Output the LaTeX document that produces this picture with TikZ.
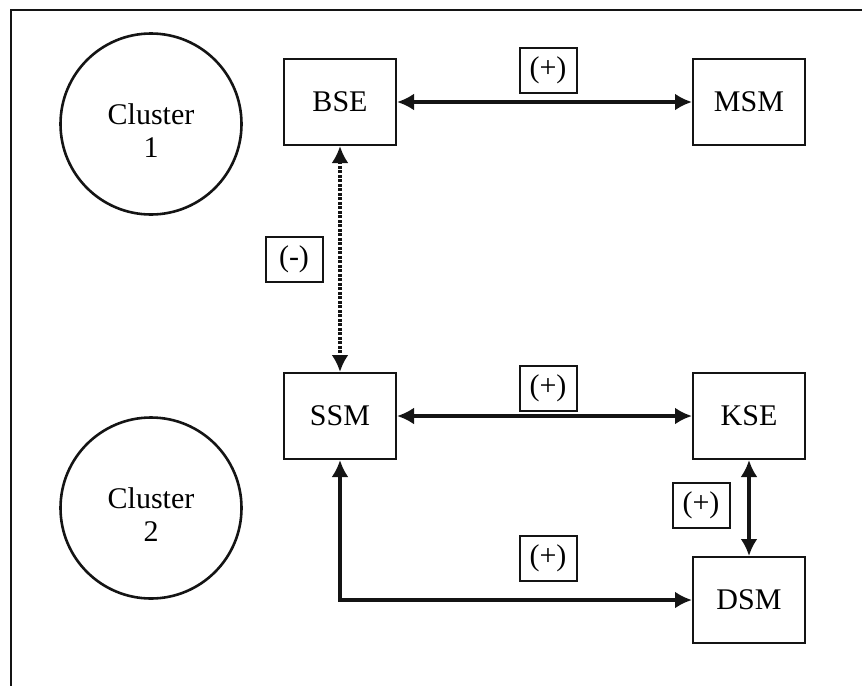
\documentclass[tikz,border=0pt]{standalone}
\usepackage{fontspec}
\setmainfont{Liberation Serif}
\usepackage{tikz}
\usetikzlibrary{arrows.meta,positioning,calc}
\definecolor{cmink}{RGB}{20,20,20}
\newcommand{\clutext}[1]{\raisebox{-17pt}[0pt][0pt]{\begin{tabular}{@{}c@{}}Cluster\\#1\end{tabular}}}
\tikzset{
  blk/.style={
    draw=cmink, line width=2pt, minimum width=112pt, minimum height=86pt,
    inner sep=0pt, align=center
  },
  clu/.style={
    circle, draw=cmink, line width=2.6pt, minimum size=181pt,
    inner sep=0pt, align=center
  },
  sgn/.style={
    draw=cmink, line width=2pt, minimum width=57pt, minimum height=45pt,
    inner sep=0pt
  },
  arr/.style={{Latex[length=17pt,width=17pt]}-{Latex[length=17pt,width=17pt]},
    draw=cmink, line width=4.5pt},
  darr/.style={arr, dash pattern=on 3pt off 1.5pt},
  frm/.style={draw=cmink, line width=2.4pt},
  every picture/.append style={font=\fontsize{30}{33}\selectfont}
}

\begin{document}
\begin{tikzpicture}[x=1pt, y=-1pt]
  \useasboundingbox (0,0) rectangle (862,686);
  \coordinate (tl) at (11,10);
  \coordinate (tr) at (862,10);
  \coordinate (bl) at (11,686);
  \draw[frm] (tr) -- (tl) -- (bl);

  \node[clu] (c1) at (151,124) {\clutext{1}};
  \node[clu] (c2) at (151,508) {\clutext{2}};

  \node[blk] (bse) at (340,102) {BSE};
  \node[blk, right=295pt of bse] (msm) {MSM};
  \node[blk] (ssm) at (340,416) {SSM};
  \node[blk, right=295pt of ssm] (kse) {KSE};
  \node[blk, below=96pt of kse] (dsm) {DSM};

  \draw[arr] (bse) -- (msm);
  \draw[darr] (bse) -- (ssm);
  \draw[arr] (ssm) -- (kse);
  \draw[arr] (kse) -- (dsm);
  \draw[arr] (ssm.south) |- (dsm.west);

  \node[sgn] (pbm) at (548,70) {(+)};
  \node[sgn] (mbs) at (294,259) {(-)};
  \node[sgn] (psk) at (548,388) {(+)};
  \node[sgn] (pkd) at (701,505) {(+)};
  \node[sgn] (psd) at (548,558) {(+)};
\end{tikzpicture}
\end{document}
